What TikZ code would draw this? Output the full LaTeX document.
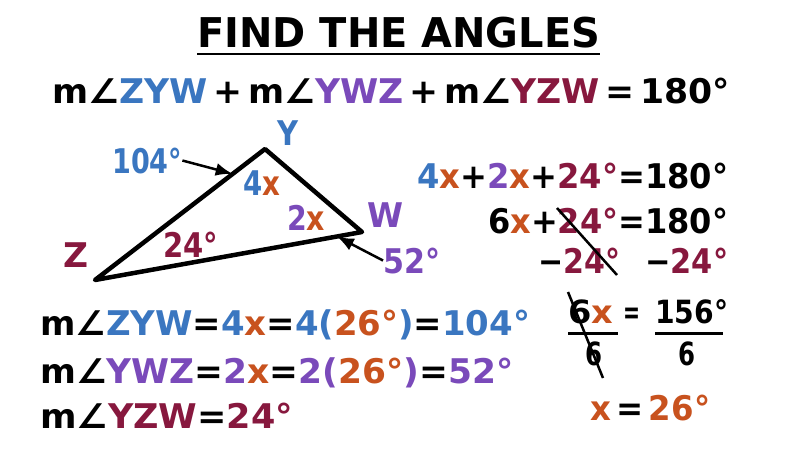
\documentclass[tikz,border=0pt]{standalone}
\usepackage{fontspec}
\setmainfont{DejaVu Sans}
\usetikzlibrary{arrows.meta}
\definecolor{cb}{RGB}{58,118,192}
\definecolor{cp}{RGB}{122,74,186}
\definecolor{cm}{RGB}{135,24,62}
\definecolor{co}{RGB}{200,82,30}
\newcommand\fw[2]{\resizebox{#1pt}{\height}{#2}}
\newcommand\cB[1]{\textcolor{cb}{#1}}
\newcommand\cP[1]{\textcolor{cp}{#1}}
\newcommand\cM[1]{\textcolor{cm}{#1}}
\newcommand\cO[1]{\textcolor{co}{#1}}
\begin{document}
\begin{tikzpicture}[x=1pt,y=-1pt,
  txt/.style={inner sep=0pt, anchor=base west, font=\fontsize{34}{40}\selectfont\bfseries},
  stxt/.style={txt, font=\fontsize{32}{38}\selectfont\bfseries},
  arr/.style={line width=2.5pt, -{Latex[length=17pt,width=13pt]}},
  strike/.style={line width=2.5pt},
  bar/.style={line width=3pt}]
\fill[white] (0,0) rectangle (800,450);
\useasboundingbox (0,0) rectangle (800,450);
% title
\node[txt, font=\fontsize{41}{48}\selectfont\bfseries] (title) at (197,47) {\fw{403}{FIND THE ANGLES}};
\draw[line width=2.5pt] ([yshift=-7pt]title.base west) -- ([yshift=-7pt]title.base east);
% main equation
\node[txt] (eq) at (52,103) {\fw{678}{m∠\cB{ZYW}\,+\,m∠\cP{YWZ}\,+\,m∠\cM{YZW}\,=\,180°}};
% triangle
\coordinate (Z) at (95,280);
\coordinate (Y) at (265,149);
\coordinate (W) at (362,232);
\draw[line width=4.5pt, line join=round] (Z) -- (Y) -- (W) -- cycle;
\path (Z) -- (Y) coordinate[pos=0.81] (p1);
\path (Z) -- (W) coordinate[pos=0.906] (p2);
\node[txt] (lY) at (277,145) {\fw{21}{\cB{Y}}};
\node[txt] (lW) at (367,227) {\fw{36}{\cP{W}}};
\node[txt] (lZ) at (63,267) {\fw{25}{\cM{Z}}};
\node[txt] (l104) at (112,173) {\fw{70}{\cB{104°}}};
\node[txt] (l4x) at (243,195) {\fw{37}{\cB{4}\cO{x}}};
\node[txt] (l2x) at (287,230) {\fw{38}{\cP{2}\cO{x}}};
\node[txt] (l24) at (163,257) {\fw{55}{\cM{24°}}};
\node[txt] (l52) at (383,273) {\fw{57}{\cP{52°}}};
\draw[arr] (l104.east) -- (p1);
\draw[arr] (l52.west) -- (p2);
% right column
\node[txt] (r1) at (417,188) {\fw{311}{\cB{4}\cO{x}+\cP{2}\cO{x}+\cM{24°}=180°}};
\node[txt] (r2) at (488,233) {\fw{240}{6\cO{x}+\cM{24°}=180°}};
\node[txt] (r3a) at (538,273) {\fw{82}{−\cM{24°}}};
\node[txt] (r3b) at (645,273) {\fw{83}{−\cM{24°}}};
\coordinate (s1a) at (557,208);
\coordinate (s1b) at (617,275);
\draw[strike] (s1a) -- (s1b);
\node[stxt] (f1) at (568,323) {\fw{45}{6\cO{x}}};
\node[stxt] (feq) at (623,323) {\fw{17}{=}};
\node[stxt] (f2) at (655,323) {\fw{73}{156°}};
\coordinate (b1a) at (568,333); \coordinate (b1b) at (618,333);
\coordinate (b2a) at (655,333); \coordinate (b2b) at (723,333);
\draw[bar] (b1a) -- (b1b);
\draw[bar] (b2a) -- (b2b);
\node[stxt] (d1) at (585,365) {\fw{17}{6}};
\node[stxt] (d2) at (678,365) {\fw{17}{6}};
\coordinate (s2a) at (568,292);
\coordinate (s2b) at (603,378);
\draw[strike] (s2a) -- (s2b);
\node[txt] (xs) at (590,420) {\fw{120}{\cO{x}\,=\,\cO{26°}}};
% bottom lines
\node[txt] (bA) at (40,335) {\fw{490}{m∠\cB{ZYW}=\cB{4}\cO{x}=\cB{4(}\cO{26°}\cB{)}=\cB{104°}}};
\node[txt] (bB) at (40,383) {\fw{473}{m∠\cP{YWZ}=\cP{2}\cO{x}=\cP{2(}\cO{26°}\cP{)}=\cP{52°}}};
\node[txt] (bC) at (40,428) {\fw{253}{m∠\cM{YZW}=\cM{24°}}};
\end{tikzpicture}
\end{document}
